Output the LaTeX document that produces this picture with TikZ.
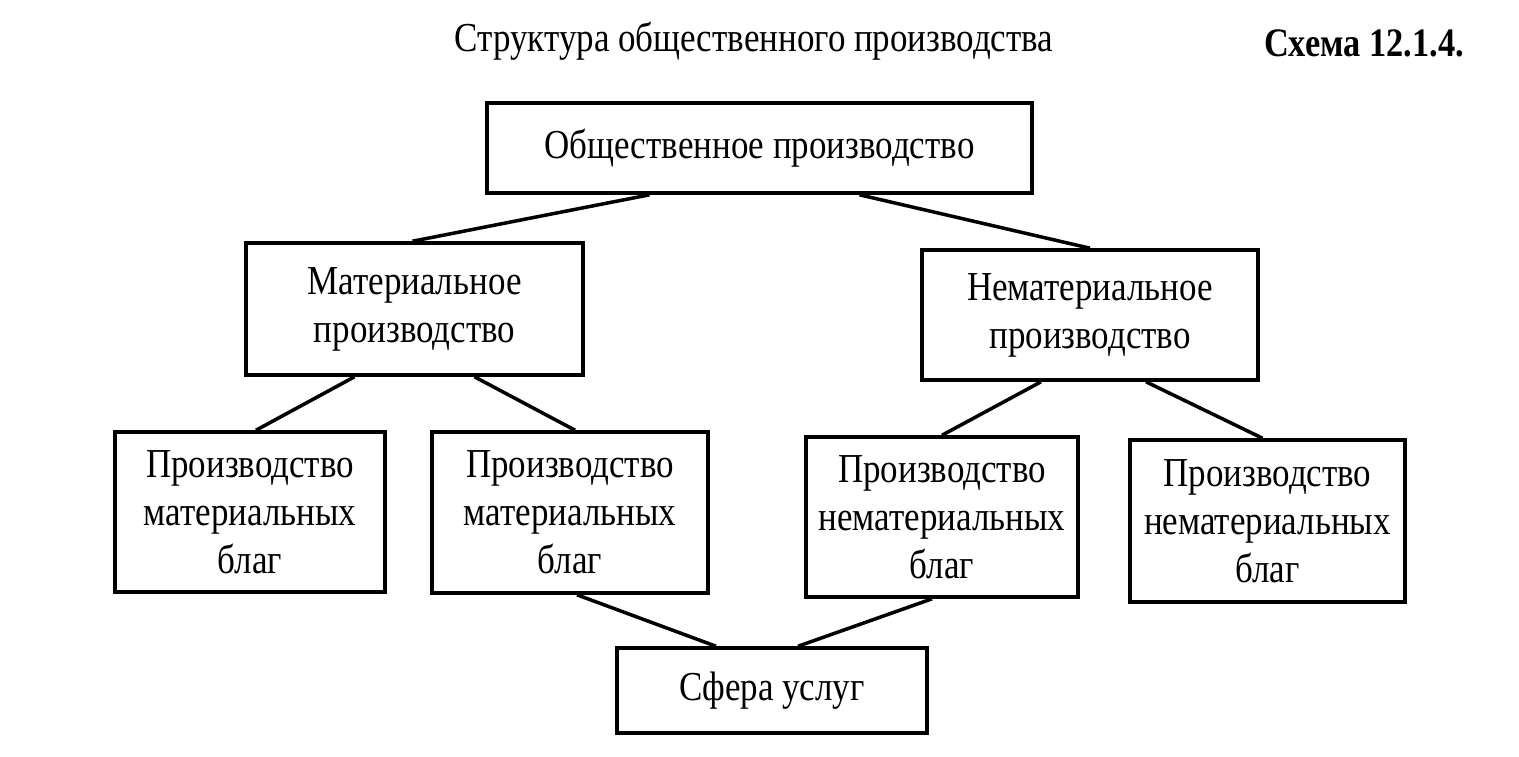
\documentclass[tikz,border=0pt]{standalone}
\usepackage{fontspec}
\setmainfont{Liberation Serif}[FakeStretch=0.85]
\begin{document}
\begin{tikzpicture}[x=0.01cm, y=-0.01cm, line width=1pt,
    txt/.style={font=\fontsize{11.7}{13.6}\selectfont},
    box/.style={txt, draw, align=center, inner sep=0pt}]
    \useasboundingbox (0,0) rectangle (1519,756);
    % Title
    \node[txt] (title) at (754,41) {Структура общественного производства};
    \node[txt, font=\fontsize{11.5}{13.6}\selectfont\bfseries] (scheme) at (1364,43) {Схема 12.1.4.};
    % Levels
    \node[box, minimum width=5.45cm, minimum height=0.9cm] (p0) at (759.5,148) {Общественное производство};
    \node[box, minimum width=3.37cm, minimum height=1.32cm] (m1) at (414.5,309) {Материальное\\производство};
    \node[box, minimum width=3.36cm, minimum height=1.3cm] (m2) at (1090,315) {Нематериальное\\производство};
    \node[box, minimum width=2.7cm, minimum height=1.6cm] (g1) at (250,512) {Производство\\материальных\\благ};
    \node[box, minimum width=2.76cm, minimum height=1.61cm] (g2) at (570,512.5) {Производство\\материальных\\благ};
    \node[box, minimum width=2.72cm, minimum height=1.6cm] (g3) at (942,517) {Производство\\нематериальных\\благ};
    \node[box, minimum width=2.75cm, minimum height=1.62cm] (g4) at (1267.5,521) {Производство\\нематериальных\\благ};
    \node[box, minimum width=3.1cm, minimum height=0.85cm] (s) at (772,690.5) {Сфера услуг};
    % Links
    \foreach \a/\sa/\b/\sb in {p0/-1.1/m1/-0.02, p0/1/m2/0, m1/-0.6/g1/0.06, m1/0.6/g2/0.05,
        m2/-0.49/g3/0, m2/0.56/g4/-0.05}
        \draw ([xshift=\sa cm]\a.south) -- ([xshift=\sb cm]\b.north);
    \foreach \a/\sa/\sb in {g2/0.07/-0.56, g3/-0.1/0.26}
        \draw ([xshift=\sa cm]\a.south) -- ([xshift=\sb cm]s.north);
\end{tikzpicture}
\end{document}
